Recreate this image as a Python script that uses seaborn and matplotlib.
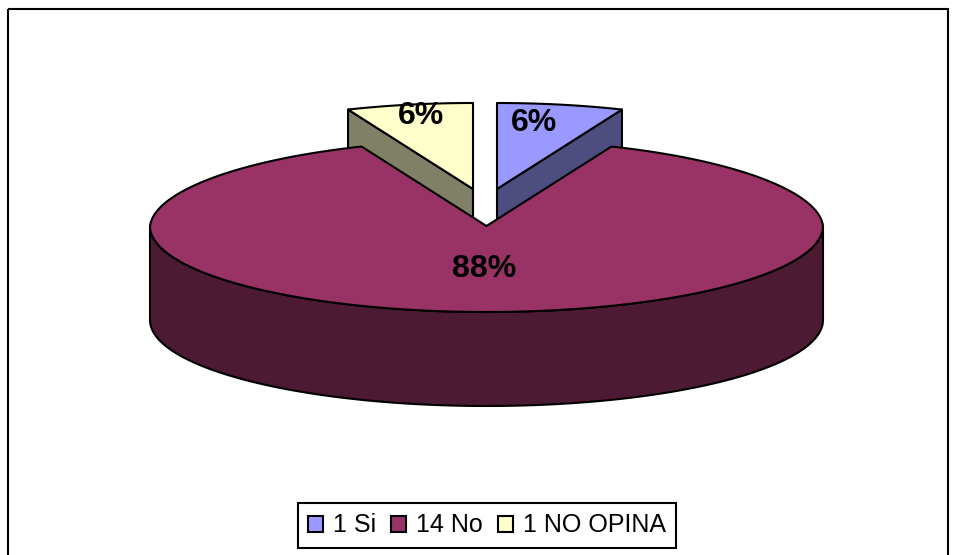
import numpy as np
import matplotlib
matplotlib.use("Agg")
import matplotlib.pyplot as plt
from matplotlib.patches import Patch, Rectangle
import seaborn as sns

# Survey answers: legend names and respondent counts
answers = ["Si", "No", "NO OPINA"]
counts = [1, 14, 1]
face_hex = ["#9999FF", "#993366", "#FFFFCC"]

sns.set_theme(style="white", font="Liberation Sans")
face_colors = sns.color_palette(face_hex)
side_colors = [tuple(c * 0.5 for c in col) for col in face_colors]

# Layout of the tilted pie, in pixel units
CX, CY, RX, RY, DEPTH = 486.5, 226.0, 336.5, 86.0, 94.0
PERSPECTIVE = 0.032  # narrowing of the far half of the disc
EXPLODE = {0: (10.5, -37.0), 1: (0.0, 0.0), 2: (-13.5, -37.0)}
LABEL_XY = {0: (534, 123), 1: (484, 269), 2: (421, 116)}
EDGE = dict(edgecolor="black", linewidth=1.5, joinstyle="round")

fig = plt.figure(figsize=(9.54, 5.55), dpi=100)
ax = fig.add_axes([0, 0, 1, 1])
ax.set_xlim(0, 954)
ax.set_ylim(555, 0)
ax.axis("off")

fractions = np.array(counts) / sum(counts)
edges = np.concatenate([[0.0], np.cumsum(fractions)]) * 2 * np.pi


def rim(theta, dx=0.0, dy=0.0):
    """Points on the tilted ellipse, angles running clockwise from the top."""
    narrowing = 1 - PERSPECTIVE * np.clip(np.cos(theta), 0, None)
    return CX + dx + RX * narrowing * np.sin(theta), CY + dy - RY * np.cos(theta)


def top_face(i):
    dx, dy = EXPLODE[i]
    theta = np.linspace(edges[i], edges[i + 1], 240)
    x, y = rim(theta, dx, dy)
    return np.r_[CX + dx, x], np.r_[CY + dy, y]


def radial_wall(i, theta):
    dx, dy = EXPLODE[i]
    x, y = rim(theta, dx, dy)
    ax_x = [CX + dx, x, x, CX + dx]
    ax_y = [CY + dy, y, y + DEPTH, CY + dy + DEPTH]
    return ax_x, ax_y


# Exploded small slices sit behind the large one
for i, wall_theta in ((0, edges[1]), (2, edges[2])):
    ax.fill(*radial_wall(i, wall_theta), facecolor=side_colors[i], zorder=2, **EDGE)
    ax.fill(*top_face(i), facecolor=face_colors[i], zorder=3, **EDGE)

# Front wall and top of the large slice
front = np.linspace(np.pi / 2, 3 * np.pi / 2, 300)
fx, fy = rim(front)
ax.fill(np.r_[fx, fx[::-1]], np.r_[fy, fy[::-1] + DEPTH],
        facecolor=side_colors[1], zorder=4, **EDGE)
ax.fill(*top_face(1), facecolor=face_colors[1], zorder=5, **EDGE)

for i, frac in enumerate(fractions):
    x, y = LABEL_XY[i]
    ax.text(x, y, f"{frac * 100:.0f}%", ha="center", va="center",
            fontsize=23, fontweight="bold", color="black", zorder=6)

# Chart frame, running past the lower edge of the figure
ax.add_patch(Rectangle((8, 9), 940, 560, fill=False, edgecolor="black",
                       linewidth=1.5, zorder=1))

handles = [Patch(facecolor=c, edgecolor="black", linewidth=1.5) for c in face_colors]
labels = [f"{n} {a}" for n, a in zip(counts, answers)]
legend = ax.legend(handles, labels, ncol=3, fontsize=18, loc="center",
                   bbox_to_anchor=(487 / 954, 1 - 525.5 / 555),
                   frameon=True, fancybox=False, edgecolor="black", framealpha=1,
                   handlelength=0.6, handleheight=0.6, handletextpad=0.4,
                   columnspacing=0.6, borderpad=0.42, borderaxespad=0)
legend.get_frame().set_linewidth(1.5)
legend.set_zorder(7)
for text in legend.get_texts():
    text.set_color("black")

fig.savefig("out.png", dpi=100, facecolor="white")
